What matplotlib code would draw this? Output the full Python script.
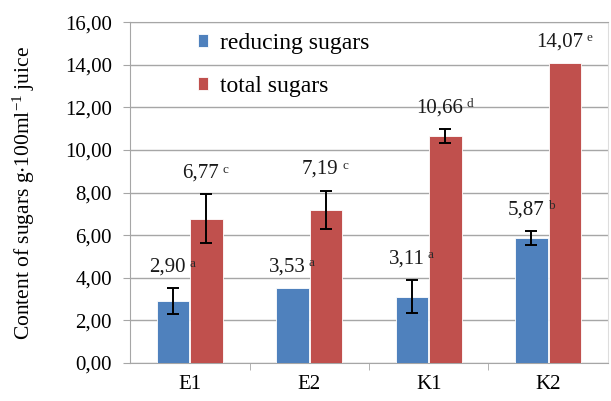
import numpy as np
import matplotlib
matplotlib.use('Agg')
import matplotlib.pyplot as plt
from matplotlib.ticker import FuncFormatter, FixedLocator

plt.rcParams['font.family'] = 'Liberation Serif'
plt.rcParams['mathtext.fontset'] = 'custom'
plt.rcParams['mathtext.rm'] = 'Liberation Serif'
plt.rcParams['mathtext.it'] = 'Liberation Serif'
plt.rcParams['mathtext.default'] = 'regular'

groups = ['E1', 'E2', 'K1', 'K2']
reducing = [2.90, 3.53, 3.11, 5.87]
total = [6.77, 7.19, 10.66, 14.07]
reducing_err = [0.60, 0.0, 0.78, 0.33]
total_err = [1.15, 0.90, 0.33, 0.0]
reducing_sig = ['a', 'a', 'a', 'b']
total_sig = ['c', 'c', 'd', 'e']

c_blue = '#4F81BD'
c_red = '#C0504D'
grid_c = '#a6a6a6'

fig = plt.figure(figsize=(6.11, 4.01), dpi=100)
ax = fig.add_axes([0.2128, 0.0948, 0.7822, 0.8502])

x = np.arange(len(groups))
w = 0.27
off = 0.14

def fmt(v):
    return ('%.2f' % v).replace('.', ',')

for vals, errs, sig, col, sign, lab in [
        (reducing, reducing_err, reducing_sig, c_blue, -1, 'reducing sugars'),
        (total, total_err, total_sig, c_red, 1, 'total sugars')]:
    xs = x + sign * off
    ax.bar(xs, vals, w, color=col, edgecolor='white', linewidth=0.6,
           label=lab, zorder=3)
    vals = np.array(vals)
    errs = np.array(errs)
    m = errs > 0
    ax.errorbar(xs[m], vals[m], yerr=errs[m], fmt='none', ecolor='black',
                elinewidth=1.4, capsize=4.5, capthick=1.4, zorder=4)
    for xi, v, e, s in zip(xs, vals, errs, sig):
        t = ax.annotate(fmt(v), xy=(xi, v + e + 0.55), xytext=(-4, 0),
                        textcoords='offset points', ha='center', va='bottom',
                        fontsize=15, color='#1a1a1a', zorder=5)
        ax.annotate(s, xy=(1, 1), xycoords=t, xytext=(2.5, 0),
                    textcoords='offset points', ha='left', va='top',
                    fontsize=9.5, color='#2a2a2a', zorder=5)

ax.set_xlim(-0.5, 3.5)
ax.set_ylim(0, 16)
ax.set_yticks(np.arange(0, 17, 2))
ax.yaxis.set_major_formatter(FuncFormatter(lambda v, p: fmt(v)))
ax.tick_params(axis='y', labelsize=15, length=5, color=grid_c, pad=8)
ax.set_xticks(x)
ax.set_xticklabels(groups)
ax.tick_params(axis='x', which='major', length=0, labelsize=15, pad=9)
ax.xaxis.set_minor_locator(FixedLocator([0.5, 1.5, 2.5]))
ax.tick_params(axis='x', which='minor', length=5, color=grid_c)

ax.yaxis.grid(True, color=grid_c, linewidth=1.0, zorder=0)
ax.set_axisbelow(True)
for sp in ['left', 'bottom', 'top']:
    ax.spines[sp].set_color(grid_c)
ax.spines['right'].set_color('#dddddd')

ax.set_ylabel(r'Content of sugars g$\cdot$100ml$^{-1}$ juice', fontsize=15.5,
              labelpad=20)

ax.legend(loc='upper left', bbox_to_anchor=(0.112, 1.01), frameon=False,
          fontsize=17, handlelength=0.45, handleheight=0.45, handletextpad=0.5,
          labelspacing=0.95, borderpad=0.1)

fig.savefig('out.png', dpi=100)
